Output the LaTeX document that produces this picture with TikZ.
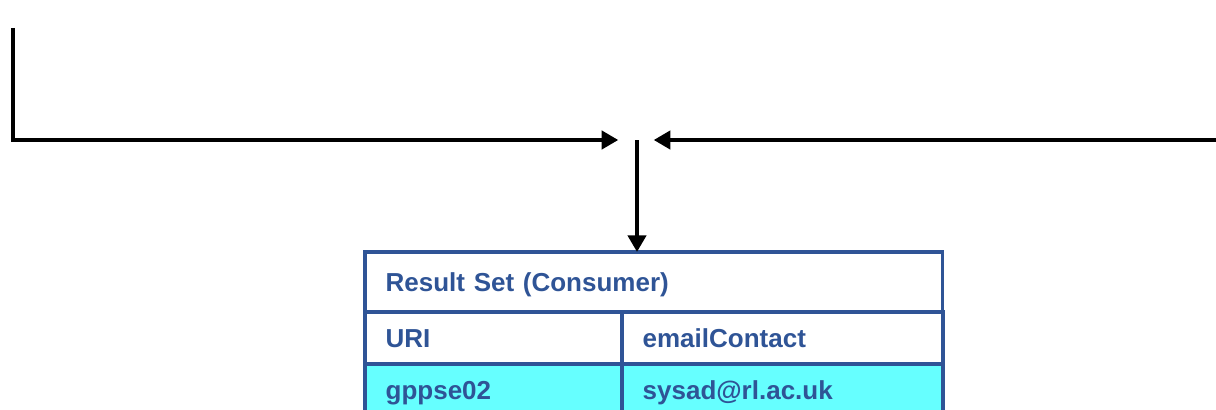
\documentclass[tikz,border=0pt]{standalone}
\usepackage{fontspec}
\setmainfont{Liberation Sans}
\usepackage{xcolor}
\usetikzlibrary{positioning, arrows.meta}
\definecolor{tblue}{RGB}{47,84,150}
\definecolor{tcyan}{RGB}{102,255,255}

\begin{document}
\begin{tikzpicture}[x=0.75pt, y=-0.75pt,
        cell/.style={rectangle, draw=tblue, line width=2.6pt, anchor=north west,
          outer sep=0pt, align=left, inner xsep=15.5pt, inner ysep=0pt, text=tblue,
          text height=14pt, text depth=0pt,
          font=\fontsize{19.5}{23}\selectfont\bfseries},
        flow/.style={line width=3.3pt, -{Triangle[length=12.5pt,width=13.5pt]}}]

        \useasboundingbox (0,0) rectangle (1216,410);
        \clip (0,0) rectangle (1216,410);

        \coordinate (lstart) at (13,28);
        \coordinate (rstart) at (1216,140);
        \coordinate (join)   at (637,140);

        % result table
        \node[cell, text width=402pt, minimum height=45pt] (title) at (365,252) {Result Set (Consumer)};
        \node[cell, text width=161.75pt, minimum height=39pt] (uri) at (title.south west) {URI};
        \node[cell, text width=209.75pt, minimum height=39pt] (email) at (uri.north east) {emailContact};
        \node[cell, fill=tcyan, text width=161.75pt, minimum height=39pt] (host) at (uri.south west) {gppse02};
        \node[cell, fill=tcyan, text width=209.75pt, minimum height=39pt] (mail) at (host.north east) {sysad@rl.ac.uk};

        % arrows
        \draw[flow, shorten >=14pt] (lstart) |- (join);
        \draw[flow, shorten >=12.5pt] (rstart) -- (join);
        \draw[flow] (join) -- (join |- title.north);
\end{tikzpicture}
\end{document}
